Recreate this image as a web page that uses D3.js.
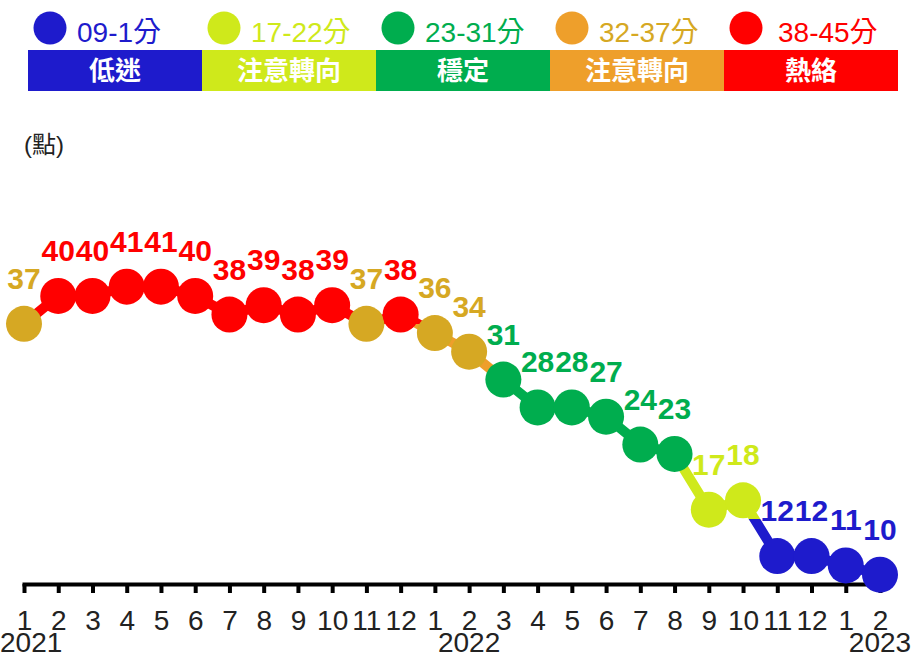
<!DOCTYPE html>
<html>
<head>
<meta charset="utf-8">
<script src="https://cdn.jsdelivr.net/npm/d3@7"></script>
<style>
body { margin: 0; background: #fff; }
svg { display: block; }
text { font-family: "Liberation Sans", Arial, "Noto Sans CJK TC", sans-serif; }
</style>
</head>
<body>
<svg id="chart" width="919" height="659"></svg>
<script>
// monthly score, 2021/1 .. 2023/2
var months = ['1','2','3','4','5','6','7','8','9','10','11','12',
	'1','2','3','4','5','6','7','8','9','10','11','12','1','2'];
var scores = [37,40,40,41,41,40,38,39,38,39,37,38,36,34,31,28,28,27,24,23,17,18,12,12,11,10];
var yearLabels = ['2021','2022','2023'];
var yearAt = [0, 13, 25];

// signal levels
var levelRanges = ['09-1分','17-22分','23-31分','32-37分','38-45分'];
var levelNames = ['低迷','注意轉向','穩定','注意轉向','熱絡'];
var levelMax = [16, 22, 31, 37, 45];
var levelColors = ['#1e1bcc','#cfe91b','#00ad4e','#ee9f2b','#ff0000'];
var pointColors = ['#1e1bcc','#cfe91b','#00ad4e','#d6a823','#ff0000'];

var svg = d3.select('#chart'),
	W = 919;

var x = d3.scalePoint().domain(d3.range(scores.length)).range([24, 880]);
var y = d3.scaleLinear().domain([9, 50]).range([584, 203]);

function levelOf(v) {
	for (var i = 0; i < levelMax.length; i++) { if (v <= levelMax[i]) return i; }
	return levelMax.length - 1;
}

// legend row + band
var band = d3.scaleBand().domain(d3.range(levelNames.length)).range([28, 898]);

var leg = svg.append('g').attr('class', 'legend');
leg.selectAll('circle').data(levelRanges).enter().append('circle')
	.attr('cx', function (d, i) { return band(i) + 22; })
	.attr('cy', 28)
	.attr('r', 16.5)
	.style('fill', function (d, i) { return levelColors[i]; });
leg.selectAll('text.range').data(levelRanges).enter().append('text')
	.attr('class', 'range')
	.attr('x', function (d, i) { return band(i) + 49 + (i === 4 ? 5 : 0); })
	.attr('y', 42)
	.style('font-size', '28px')
	.style('fill', function (d, i) { return pointColors[i]; })
	.text(function (d) { return d; });

leg.selectAll('rect').data(levelNames).enter().append('rect')
	.attr('x', function (d, i) { return band(i); })
	.attr('y', 50)
	.attr('width', band.bandwidth())
	.attr('height', 41)
	.style('fill', function (d, i) { return levelColors[i]; });
leg.selectAll('text.name').data(levelNames).enter().append('text')
	.attr('class', 'name')
	.attr('x', function (d, i) { return band(i) + band.bandwidth() / 2; })
	.attr('y', 71)
	.attr('text-anchor', 'middle')
	.attr('dominant-baseline', 'central')
	.style('font-size', '26px')
	.style('font-weight', 'bold')
	.style('fill', '#fff')
	.text(function (d) { return d; });

svg.append('text')
	.attr('x', 24)
	.attr('y', 153)
	.style('font-size', '24px')
	.style('fill', '#222')
	.text('(點)');

// x axis
var axis = svg.append('g')
	.attr('transform', 'translate(0,' + y(9) + ')')
	.call(d3.axisBottom(x).tickSize(9).tickSizeOuter(0).tickFormat(function (i) { return months[i]; }));
axis.select('.domain').attr('stroke', '#000').attr('stroke-width', 4).attr('stroke-linecap', 'square');
axis.selectAll('.tick line').attr('stroke', '#000').attr('stroke-width', 4);
axis.selectAll('.tick text')
	.attr('y', 46).attr('dy', 0)
	.style('font-size', '28px')
	.style('fill', '#222');

var years = svg.append('g').selectAll('text').data(yearLabels).enter().append('text')
	.attr('y', 652)
	.style('font-size', '28px')
	.style('fill', '#222')
	.text(function (d) { return d; });
years.each(function (d, i) {
	var w = this.getComputedTextLength(),
		left = Math.max(0, Math.min(W - w, x(yearAt[i]) - w / 2));
	d3.select(this).attr('x', left);
});

// line coloured by level
var grad = svg.append('defs').append('linearGradient')
	.attr('id', 'lvl')
	.attr('gradientUnits', 'userSpaceOnUse')
	.attr('x1', 0).attr('x2', 0)
	.attr('y1', y(9)).attr('y2', y(50));
var lo = 9;
levelMax.forEach(function (m, i) {
	var hi = i === levelMax.length - 1 ? 50 : m;
	grad.append('stop').attr('offset', (lo - 9) / 41).attr('stop-color', levelColors[i]);
	grad.append('stop').attr('offset', (hi - 9) / 41).attr('stop-color', levelColors[i]);
	lo = hi;
});

svg.append('path')
	.datum(scores)
	.attr('d', d3.line().x(function (d, i) { return x(i); }).y(function (d) { return y(d); }))
	.style('fill', 'none')
	.style('stroke', 'url(#lvl)')
	.style('stroke-width', 10)
	.style('stroke-linejoin', 'round');

svg.append('g').selectAll('circle').data(scores).enter().append('circle')
	.attr('cx', function (d, i) { return x(i); })
	.attr('cy', function (d) { return y(d); })
	.attr('r', 18)
	.style('fill', function (d) { return pointColors[levelOf(d)]; });

svg.append('g').selectAll('text').data(scores).enter().append('text')
	.attr('x', function (d, i) { return x(i); })
	.attr('y', function (d) { return y(d) - 35; })
	.attr('text-anchor', 'middle')
	.style('font-size', '30px')
	.style('font-weight', 'bold')
	.style('fill', function (d) { return pointColors[levelOf(d)]; })
	.text(function (d) { return d; });
</script>
</body>
</html>
